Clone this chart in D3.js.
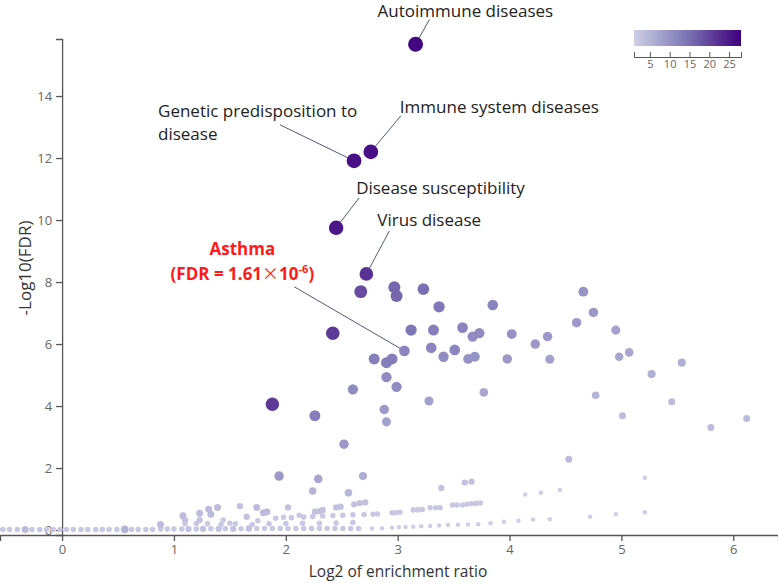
<!DOCTYPE html>
<html><head><meta charset="utf-8">
<script src="https://cdn.jsdelivr.net/npm/d3@7"></script>
<style>body{margin:0;background:#fff} svg{display:block}</style>
</head><body><svg id="c" width="778" height="583"></svg>
<script>
// ---- data: [log2 enrichment ratio, -log10(FDR), gene count]
const labeledTerms = [
  ["Autoimmune diseases", 3.16, 15.67, 27],
  ["Immune system diseases", 2.76, 12.20, 26],
  ["Genetic predisposition to disease", 2.61, 11.91, 26],
  ["Disease susceptibility", 2.45, 9.75, 25],
  ["Virus disease", 2.72, 8.26, 22],
  ["Asthma", 3.06, 5.78, 12]
];
const strongTerms = [
  [2.67,7.69,19],[2.42,6.35,21],[1.88,4.06,21],[2.97,7.83,16],[2.99,7.55,16],
  [3.23,7.77,15],[3.37,7.20,14],[2.26,3.69,13],[3.85,7.26,12],[3.12,6.45,14],
  [3.32,6.45,13],[3.30,5.88,12],[3.41,5.59,11],[2.79,5.52,13],[2.90,5.40,13],
  [2.95,5.52,13],[2.90,4.93,11],[2.99,4.62,11],[2.60,4.54,11],[2.88,3.89,9],
  [2.90,3.49,8],[3.28,4.16,8]
];
const midTerms = [
  [3.58,6.53,12],[3.67,6.24,11],[3.73,6.35,11],[4.02,6.32,10],[3.51,5.81,12],
  [3.63,5.52,10],[3.69,5.59,10],[3.98,5.52,9],[4.23,6.00,9],[4.34,6.24,9],
  [4.36,5.51,8],[4.60,6.69,9],[4.66,7.69,10],[4.75,7.02,9],[4.95,6.45,8],
  [4.98,5.59,7],[5.07,5.73,7],[5.27,5.03,6],[5.54,5.40,6],[3.77,4.44,7],
  [4.77,4.35,5],[5.45,4.14,4],[5.01,3.69,4],[6.12,3.60,4],[5.80,3.31,4],
  [2.52,2.77,9],[1.94,1.74,9],[2.29,1.65,7],[2.69,1.74,6],[2.24,1.26,5],
  [2.56,1.20,5],[3.39,1.36,3],[3.60,1.53,3],[3.66,1.56,3],[4.53,2.28,4],
  [4.14,1.15,1],[4.28,1.20,1],[4.45,1.29,1],[5.21,1.69,1]
];
const lowTerms = [
  [0.88,0.18,4],[1.08,0.46,4],[1.10,0.32,3],[1.23,0.54,4],[1.23,0.32,3],
  [1.31,0.67,4],[1.33,0.51,4],[1.39,0.73,4],[1.44,0.32,2],[1.50,0.22,2],
  [1.59,0.77,3],[1.65,0.43,3],[1.74,0.73,4],[1.75,0.30,2],[1.80,0.56,4],
  [1.83,0.59,4],[1.91,0.38,2],[1.98,0.41,2],[2.02,0.73,3],[2.12,0.48,2],
  [2.26,0.59,3],[2.30,0.61,3],[2.33,0.65,3],[2.45,0.73,3],[2.49,0.75,3],
  [2.61,0.83,3],[2.66,0.87,3],[2.71,0.89,3]
];
const streakTwo = [
  [2.05,0.40,2],[2.16,0.42,2],[2.24,0.44,2],[2.33,0.45,2],[2.42,0.47,2],
  [2.51,0.48,2],[2.60,0.49,2],[2.70,0.50,2],[2.78,0.51,2],[2.82,0.52,2],
  [2.95,0.56,2],[2.98,0.56,2],[3.02,0.57,2],[3.14,0.65,2],[3.18,0.65,2],
  [3.22,0.66,2],[3.29,0.72,2],[3.34,0.72,2],[3.38,0.72,2],[3.49,0.81,2],
  [3.53,0.81,2],[3.58,0.81,2],[3.62,0.83,2],[3.66,0.85,2],[3.70,0.86,2],
  [3.74,0.87,2]
];
const streakOne = [
  [1.10,0.20,2],[1.20,0.21,2],[1.30,0.20,2],[1.42,0.18,2],[1.55,0.20,2],
  [1.70,0.18,2],[1.85,0.20,2],[2.00,0.21,2],[2.15,0.22,2],[2.30,0.22,2],
  [2.45,0.23,2],[2.60,0.24,2],
  [2.77,0.05,1],[2.86,0.06,1],[2.95,0.07,1],[3.01,0.09,1],[3.07,0.10,1],
  [3.14,0.11,1],[3.21,0.12,1],[3.29,0.13,1],[3.37,0.15,1],[3.45,0.16,1],
  [3.54,0.17,1],[3.63,0.18,1],[3.72,0.19,1],[3.83,0.22,1],[3.95,0.27,1],
  [4.08,0.30,1],[4.21,0.34,1],[4.36,0.35,1],[4.72,0.43,1],[4.95,0.51,1],
  [5.21,0.57,1]
];
const baselineTerms = [
  [-0.53,0.02,2],[-0.47,0.02,2],[-0.40,0.02,2],[-0.33,0.02,4],[-0.27,0.02,2],
  [-0.20,0.02,2],[-0.14,0.02,2],[-0.08,0.02,2],[-0.02,0.02,2],[0.04,0.02,2],
  [0.10,0.02,2],[0.17,0.02,2],[0.23,0.02,2],[0.30,0.02,2],[0.36,0.02,2],
  [0.42,0.02,2],[0.49,0.02,2],[0.56,0.02,5],[0.62,0.02,2],[0.68,0.02,2],
  [0.75,0.02,2],[0.81,0.02,2],[0.88,0.03,2],[0.94,0.03,2],[1.00,0.03,2],
  [1.07,0.03,2],[1.13,0.03,3],[1.20,0.03,2],[1.26,0.04,3],[1.33,0.04,2],
  [1.40,0.04,3],[1.46,0.04,2],[1.53,0.04,3],[1.60,0.04,2],[1.67,0.05,3],
  [1.74,0.05,2],[1.81,0.05,2],[1.88,0.05,2],[1.95,0.05,2],[2.02,0.05,2],
  [2.09,0.05,2],[2.16,0.05,2],[2.23,0.05,2],[2.30,0.05,2],[2.37,0.05,2],
  [2.44,0.05,2],[2.51,0.05,2],[2.58,0.05,2],[2.65,0.05,2]
];
const xTicks = [0,1,2,3,4,5,6];
const yTicks = [0,2,4,6,8,10,12,14];
const legendTicks = [5,10,15,20,25];
const countRange = [1,28];

// ---- drawing
const svg = d3.select("#c");
const x = d3.scaleLinear().domain([-0.555, 6.4]).range([0, 778]);
const y = d3.scaleLinear().domain([-0.16, 15.84]).range([535, 39]);
const color = d3.scaleSequential(t => d3.interpolatePurples(0.3 + 0.7 * t)).domain(countRange);
const rad = n => 1.0 + 1.25 * Math.sqrt(n);
const font = "'Open Sans', 'Segoe UI', sans-serif";

// axes
const gx = svg.append("g").attr("transform", `translate(0,${y.range()[0]})`)
  .call(d3.axisBottom(x).tickValues(xTicks).tickFormat(d3.format("d"))
    .tickSizeInner(6).tickSizeOuter(6).tickPadding(4));
const gy = svg.append("g").attr("transform", `translate(${x(0)},0)`)
  .call(d3.axisLeft(y).tickValues(yTicks).tickFormat(d3.format("d"))
    .tickSizeInner(6).tickSizeOuter(6).tickPadding(4));
[gx, gy].forEach(g => {
  g.selectAll("path,line").attr("stroke", "#555").attr("stroke-width", 1.3);
  g.selectAll("text").attr("fill", "#666").style("font-family", font).style("font-size", "13px");
});

svg.append("text").attr("x", 398).attr("y", 577).attr("text-anchor", "middle")
  .style("font-family", font).style("font-size", "15.5px").attr("fill", "#333")
  .text("Log2 of enrichment ratio");
svg.append("text").attr("transform", "translate(24,268) rotate(-90)")
  .attr("text-anchor", "middle").attr("dominant-baseline", "central")
  .style("font-family", font).style("font-size", "17px").attr("fill", "#333")
  .text("-Log10(FDR)");

// annotation layout (pixel offsets from the point)
const annot = {
  "Autoimmune diseases": {lines:["Autoimmune diseases"], tx:-38, ty:[-27], lx:14, ly:-25},
  "Immune system diseases": {lines:["Immune system diseases"], tx:29, ty:[-39], lx:30, ly:-36},
  "Genetic predisposition to disease": {lines:["Genetic predisposition to","disease"], tx:-196, ty:[-44,-21], lx:-74, ly:-36},
  "Disease susceptibility": {lines:["Disease susceptibility"], tx:20, ty:[-34], lx:23, ly:-30},
  "Virus disease": {lines:["Virus disease"], tx:11, ty:[-48], lx:23, ly:-43},
  "Asthma": {lines:null, tx:-162, ty:[-96,-71], lx:-110, ly:-64}
};

const gl = svg.append("g");
labeledTerms.forEach(d => {
  const a = annot[d[0]], px = x(d[1]), py = y(d[2]);
  gl.append("line").attr("x1", px).attr("y1", py).attr("x2", px + a.lx).attr("y2", py + a.ly)
    .attr("stroke", "#4d5b78").attr("stroke-width", 1);
  if (a.lines) {
    a.lines.forEach((t, i) => gl.append("text").attr("x", px + a.tx).attr("y", py + a.ty[i])
      .attr("text-anchor", "start").style("font-family", font).style("font-size", "17px")
      .attr("fill", "#222").text(t));
  } else {
    gl.append("text").attr("x", px + a.tx).attr("y", py + a.ty[0]).attr("text-anchor", "middle")
      .style("font-family", font).style("font-size", "17px").style("font-weight", "bold")
      .attr("fill", "#ff1a1a").text("Asthma");
    const t2 = gl.append("text").attr("x", px + a.tx).attr("y", py + a.ty[1]).attr("text-anchor", "middle")
      .style("font-family", font).style("font-size", "17px").style("font-weight", "bold").attr("fill", "#ff1a1a");
    t2.append("tspan").text("(FDR = 1.61");
    t2.append("tspan").style("font-family", "'Noto Sans CJK SC', sans-serif").style("font-weight", "normal").text("\u00D7");
    t2.append("tspan").text("10");
    t2.append("tspan").attr("dy", -7).style("font-size", "11px").text("-6");
    t2.append("tspan").attr("dy", 7).text(")");
  }
});

// points
const allPts = [].concat(
  baselineTerms, streakOne, streakTwo, lowTerms, midTerms, strongTerms,
  labeledTerms.map(d => [d[1], d[2], d[3]])
);
svg.append("g").selectAll("circle").data(allPts).join("circle")
  .attr("cx", d => x(d[0])).attr("cy", d => y(d[1])).attr("r", d => rad(d[2]))
  .attr("fill", d => color(d[2]));

// legend
const lg = svg.append("defs").append("linearGradient").attr("id", "lg");
d3.range(0, 1.0001, 0.1).forEach(t => lg.append("stop").attr("offset", t)
  .attr("stop-color", color(countRange[0] + t * (countRange[1] - countRange[0]))));
const ls = d3.scaleLinear().domain(countRange).range([634, 741]);
svg.append("rect").attr("x", 634).attr("y", 30).attr("width", 107).attr("height", 16).attr("fill", "url(#lg)");
const gleg = svg.append("g").attr("transform", "translate(0,57)")
  .call(d3.axisBottom(ls).tickValues(legendTicks).tickSizeInner(-5).tickSizeOuter(-5).tickPadding(3));
gleg.selectAll("path,line").attr("stroke", "#555");
gleg.selectAll("text").attr("fill", "#666").style("font-family", font).style("font-size", "11px");
</script></body></html>
